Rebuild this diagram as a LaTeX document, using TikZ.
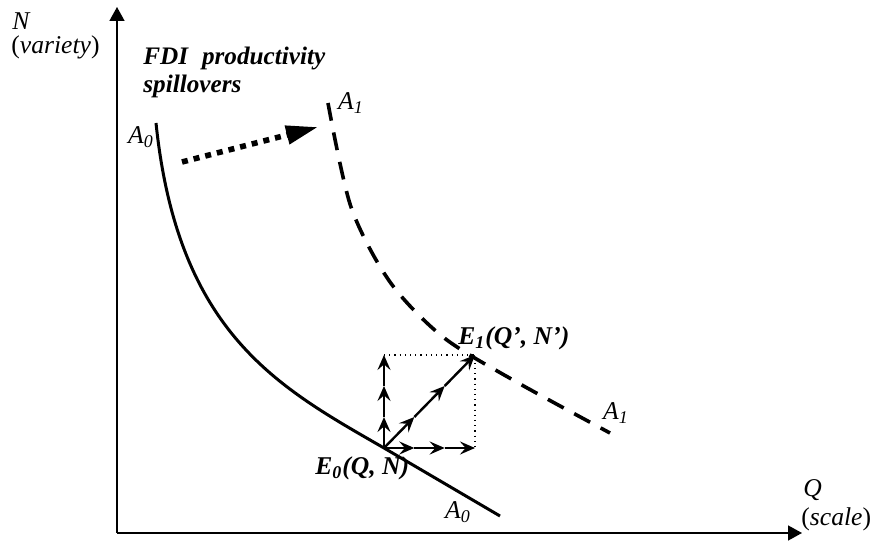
\documentclass[tikz,border=0pt]{standalone}
\usepackage{fontspec}
\setmainfont{Liberation Serif}
\usetikzlibrary{arrows.meta,calc}

\begin{document}
\begin{tikzpicture}[x=0.5pt,y=-0.5pt,>=Stealth,
  axis/.style={line width=0.8pt,-{Triangle[length=7pt,width=7.5pt]}},
  vec/.style={line width=1.2pt,-{Stealth[length=7.5pt,width=6.5pt,inset=2.8pt]}},
  lbl/.style={inner sep=0pt,font=\fontsize{12.8}{14}\selectfont}]
  \useasboundingbox (0,0) rectangle (874,545);
  % axes
  \coordinate (O) at (117,533);
  \coordinate (Ntip) at (117,7);
  \coordinate (Qtip) at (802,533);
  \draw[axis] (O) -- (Ntip);
  \draw[axis] (O) -- (Qtip);
  \node[lbl,anchor=base west] (Nlab) at (12,30) {\textit{N}};
  \node[lbl,anchor=base west] (Nvar) at (11,54) {(\textit{variety})};
  \node[lbl,anchor=base west] (Qlab) at (803,497) {\textit{Q}};
  \node[lbl,anchor=base west] (Qsca) at (801,526) {(\textit{scale})};
  % isoquants
  \coordinate (E0) at (384,448);
  \coordinate (E1) at (475,355);
  \draw[line width=1.5pt] (156,123) .. controls (178,335) and (280,388) .. (E0)
    -- (500,516);
  \draw[line width=1.8pt,dash pattern=on 9pt off 6pt] plot[smooth] coordinates
    {(328,103) (351,207) (390,282) (443,337) (513,380) (610,433)};
  \node[lbl] (A0top) at (141,137) {\textit{A\textsubscript{0}}};
  \node[lbl] (A0bot) at (458,512) {\textit{A\textsubscript{0}}};
  \node[lbl] (A1top) at (351,103) {\textit{A\textsubscript{1}}};
  \node[lbl] (A1bot) at (616,413) {\textit{A\textsubscript{1}}};
  % spillover shift
  \node[lbl,anchor=base west,font=\fontsize{12.6}{14}\selectfont\bfseries\itshape]
    (fdi) at (143,65) {FDI\hspace{0.55em}productivity};
  \node[lbl,anchor=base west,font=\fontsize{12.6}{14}\selectfont\bfseries\itshape]
    (spill) at (143,93) {spillovers};
  \coordinate (s0) at (182,162);
  \coordinate (s1) at (318,127);
  \draw[line width=2.8pt,dash pattern=on 3pt off 3pt,
    -{Triangle[length=16pt,width=9pt]}] (s0) -- (s1);
  % equilibria
  \coordinate (EN) at (E0 |- E1);
  \coordinate (EQ) at (E1 |- E0);
  \draw[dotted,line width=0.6pt] (EN) -- (E1) -- (EQ);
  \foreach \tgt in {EN,E1,EQ}
    \foreach \a/\b in {0/0.333,0.333/0.667,0.667/1}
      \draw[vec] ($(E0)!\a!(\tgt)$) -- ($(E0)!\b!(\tgt)$);
  \node[lbl,anchor=base west] (E0lab) at (315,475)
    {\textbf{\textit{E\textsubscript{0}(Q, N)}}};
  \node[lbl,anchor=base west] (E1lab) at (458,345)
    {\textbf{\textit{E\textsubscript{1}(Q’, N’)}}};
\end{tikzpicture}
\end{document}
